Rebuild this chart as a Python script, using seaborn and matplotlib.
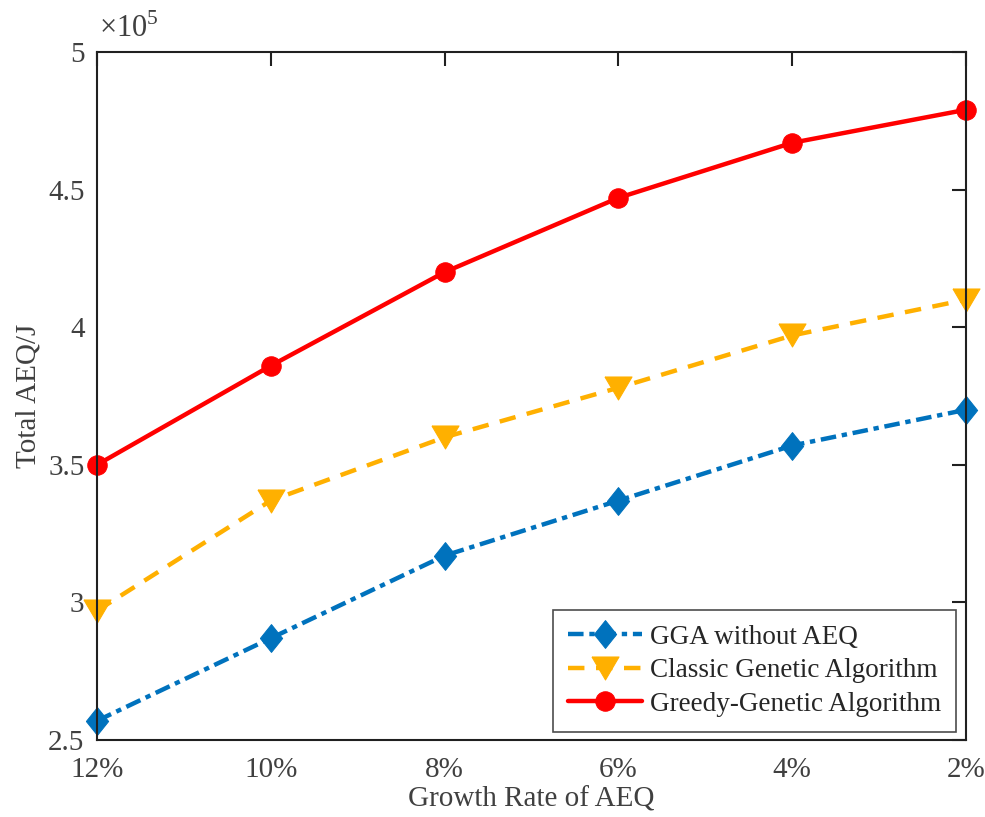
import matplotlib
matplotlib.use("Agg")
import matplotlib.pyplot as plt
import matplotlib.ticker as mticker
import seaborn as sns
import pandas as pd

categories = ["12%", "10%", "8%", "6%", "4%", "2%"]
gga_without = [2.57e5, 2.87e5, 3.17e5, 3.37e5, 3.57e5, 3.70e5]
classic_ga = [2.97e5, 3.37e5, 3.60e5, 3.78e5, 3.97e5, 4.10e5]
greedy_ga = [3.50e5, 3.86e5, 4.20e5, 4.47e5, 4.67e5, 4.79e5]
series_names = ["GGA without AEQ", "Classic Genetic Algorithm", "Greedy-Genetic Algorithm"]
y_ticks = [2.5e5, 3e5, 3.5e5, 4e5, 4.5e5, 5e5]

sns.set_theme(style="white")
plt.rcParams['font.family'] = ['Liberation Serif', 'DejaVu Serif']
plt.rcParams['mathtext.fontset'] = 'custom'
plt.rcParams['mathtext.rm'] = 'Liberation Serif'

fig = plt.figure(figsize=(9.85, 8.17), dpi=100)
ax = fig.add_axes([0.0985, 0.0942, 0.8822, 0.8422])

diamond = [(-0.8, 0), (0, 1), (0.8, 0), (0, -1), (-0.8, 0)]
tri_down = [(-1, 0.85), (1, 0.85), (0, -0.85), (-1, 0.85)]
pos = list(range(len(categories)))
styles = [
    dict(color="#0072BD", linestyle=(0, (3.5, 1.3, 1.2, 1.3)), marker=diamond, markersize=20),
    dict(color="#FFB000", linestyle=(0, (3.7, 2.6)), marker=tri_down, markersize=19.5),
    dict(color="#FF0000", linestyle="-", marker="o", markersize=14),
]
for vals, name, st in zip([gga_without, classic_ga, greedy_ga], series_names, styles):
    df = pd.DataFrame({"x": pos, "y": vals})
    sns.lineplot(data=df, x="x", y="y", ax=ax, label=name, linewidth=3.2,
                 color=st["color"], marker=st["marker"], markersize=st["markersize"],
                 markeredgecolor=st["color"], markerfacecolor=st["color"])
    ln = ax.lines[-1]
    ln.set_linestyle(st["linestyle"])
    ln.set_markersize(st["markersize"])
    ln.set_clip_on(False)

ax.set_xlim(0, 5)
ax.set_ylim(2.5e5, 5e5)
ax.set_xticks(pos)
ax.set_xticklabels(categories)
ax.set_yticks(y_ticks)
ax.yaxis.set_major_formatter(mticker.FuncFormatter(lambda v, p: f"{v/1e5:g}"))
ax.text(0.002, 1.012, r"$\times10^{5}$", transform=ax.transAxes, fontsize=22,
        color="#404040", ha="left", va="bottom")

ax.set_xlabel("Growth Rate of AEQ", fontsize=21, color="#404040", labelpad=3)
ax.set_ylabel("Total AEQ/J", fontsize=21, color="#404040", labelpad=5)
ax.tick_params(axis="both", which="both", direction="in", length=10, width=1.5,
               labelsize=21, top=True, right=True, colors="#202020")
ax.tick_params(axis="x", pad=12, labelcolor="#404040")
ax.tick_params(axis="y", pad=9, labelcolor="#404040")
for sp in ax.spines.values():
    sp.set_color("#202020")
    sp.set_linewidth(1.5)

leg = ax.legend(loc="lower right", fontsize=19.5, frameon=True, fancybox=False,
                edgecolor="#202020", handlelength=2.75, handletextpad=0.3,
                borderpad=0.55, labelspacing=0.32, borderaxespad=0,
                bbox_to_anchor=(0.989, 0.012))
leg.get_frame().set_linewidth(1.2)
for h in leg.get_lines():
    h.set_linewidth(3.2)

fig.savefig("out.png", dpi=100)
